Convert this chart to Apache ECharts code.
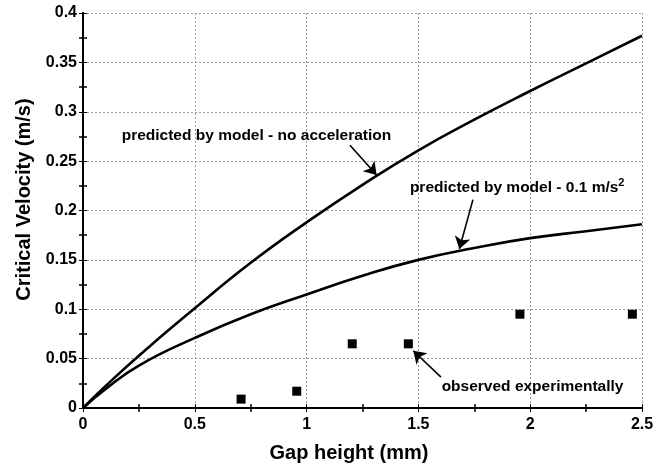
<!DOCTYPE html>
<html>
<head>
<meta charset="utf-8">
<script src="https://cdn.jsdelivr.net/npm/echarts@6/dist/echarts.min.js"></script>
<style>html,body{margin:0;padding:0;background:#fff;}#c{width:663px;height:468px;}</style>
</head>
<body>
<div id="c"></div>
<script>
// Data
var gapX = [0, 0.1, 0.25, 0.5, 0.75, 1.0, 1.25, 1.5, 1.75, 2.0, 2.25, 2.5];
var noAccel = [0, 0.022, 0.053, 0.101, 0.147, 0.188, 0.226, 0.261, 0.292, 0.321, 0.349, 0.377];
var accel01 = [0, 0.019, 0.043, 0.071, 0.095, 0.115, 0.134, 0.150, 0.162, 0.172, 0.179, 0.186];
var obsX = [0.707, 0.956, 1.204, 1.455, 1.954, 2.457];
var obsY = [0.009, 0.017, 0.065, 0.065, 0.095, 0.095];
var xTicks = [0, 0.5, 1, 1.5, 2, 2.5];
var yTicks = [0, 0.05, 0.1, 0.15, 0.2, 0.25, 0.3, 0.35, 0.4];
// Annotations (data coordinates)
var annText = [
  {x: 0.173, y: 0.276, t: '{a|predicted by model - no acceleration}'},
  {x: 1.462, y: 0.223, t: '{a|predicted by model - 0.1 m/s}{s|2}'},
  {x: 1.604, y: 0.0213, t: '{a|observed experimentally}'}
];
var annArrows = [
  [[1.194, 0.266], [1.313, 0.236]],
  [[1.744, 0.211], [1.683, 0.161]],
  [[1.601, 0.0313], [1.477, 0.058]]
];

var font = 'Liberation Sans, Arial, Helvetica, sans-serif';
function zip(a, b) { return a.map(function (v, i) { return [v, b[i]]; }); }

var chart = echarts.init(document.getElementById('c'), null, {renderer: 'canvas'});
var gridLine = {show: true, lineStyle: {color: '#9a9a9a', width: 1, type: [2, 2]}};
var baseX = {
  type: 'value', min: xTicks[0], max: xTicks[xTicks.length - 1], interval: 0.5
};
var baseY = {
  type: 'value', min: yTicks[0], max: yTicks[yTicks.length - 1], interval: 0.05
};
var option = {
  animation: false,
  backgroundColor: '#fff',
  grid: {left: 83, right: 21, top: 13, bottom: 55, containLabel: false},
  xAxis: [
    Object.assign({}, baseX, {
      position: 'bottom',
      name: 'Gap height (mm)', nameLocation: 'middle', nameGap: 35,
      nameTextStyle: {fontFamily: font, fontWeight: 'bold', fontSize: 20, color: '#000', padding: [0, 27, 0, 0]},
      axisLine: {show: true, lineStyle: {color: '#000', width: 2}},
      axisTick: {show: true, inside: true, length: 4, lineStyle: {color: '#000'}},
      minorTick: {show: true, splitNumber: 2, length: 4, lineStyle: {color: '#000', width: 1.5}},
      axisLabel: {fontFamily: font, fontWeight: 'bold', fontSize: 16, color: '#000', margin: 9},
      splitLine: gridLine
    }),
    Object.assign({}, baseX, {
      position: 'top',
      axisLine: {show: true, lineStyle: {color: '#000', width: 2}},
      axisTick: {show: true, inside: true, length: 4, lineStyle: {color: '#000'}},
      minorTick: {show: true, splitNumber: 2, length: 4, lineStyle: {color: '#000', width: 1.5}},
      axisLabel: {show: false},
      splitLine: {show: false}
    })
  ],
  yAxis: [
    Object.assign({}, baseY, {
      position: 'left',
      name: 'Critical Velocity (m/s)', nameLocation: 'middle', nameGap: 48, nameRotate: 90,
      nameTextStyle: {fontFamily: font, fontWeight: 'bold', fontSize: 20, color: '#000', padding: [0, 0, 0, 22]},
      axisLine: {show: true, lineStyle: {color: '#000', width: 2}},
      axisTick: {show: true, inside: true, length: 4, lineStyle: {color: '#000'}},
      minorTick: {show: true, splitNumber: 2, length: 4, lineStyle: {color: '#000', width: 1.5}},
      axisLabel: {fontFamily: font, fontWeight: 'bold', fontSize: 16, color: '#000', margin: 6},
      splitLine: gridLine
    }),
    Object.assign({}, baseY, {
      position: 'right',
      axisLine: {show: true, lineStyle: {color: '#000', width: 2}},
      axisTick: {show: true, inside: true, length: 4, lineStyle: {color: '#000'}},
      minorTick: {show: true, splitNumber: 2, length: 4, lineStyle: {color: '#000', width: 1.5}},
      axisLabel: {show: false},
      splitLine: {show: false}
    })
  ],
  series: [
    {
      name: 'no acceleration', type: 'line', data: zip(gapX, noAccel), smooth: 0.5,
      symbol: 'none', lineStyle: {color: '#000', width: 2.6}
    },
    {
      name: '0.1 m/s2', type: 'line', data: zip(gapX, accel01), smooth: 0.5,
      symbol: 'none', lineStyle: {color: '#000', width: 2.6}
    },
    {
      name: 'observed', type: 'scatter', data: zip(obsX, obsY),
      symbol: 'rect', symbolSize: 9, itemStyle: {color: '#000', opacity: 1}
    },
    {
      name: 'annotations', type: 'line', data: [], silent: true,
      markLine: {
        silent: true, animation: false,
        symbol: ['none', 'arrow'], symbolSize: 12,
        lineStyle: {color: '#000', width: 1.6, type: 'solid', opacity: 1},
        itemStyle: {color: '#000'},
        label: {show: false},
        data: annArrows.map(function (a) {
          return [{coord: a[0]}, {coord: a[1]}];
        })
      },
      markPoint: {
        silent: true, animation: false,
        symbol: 'circle', symbolSize: 0,
        label: {
          show: true, position: 'right', distance: 0,
          rich: {
            a: {fontFamily: font, fontWeight: 'bold', fontSize: 15.5, color: '#000'},
            s: {fontFamily: font, fontWeight: 'bold', fontSize: 11, color: '#000', padding: [0, 0, 10, 0]}
          }
        },
        data: annText.map(function (d) {
          return {coord: [d.x, d.y], label: {formatter: d.t}};
        })
      }
    }
  ]
};
chart.setOption(option);
</script>
</body>
</html>
